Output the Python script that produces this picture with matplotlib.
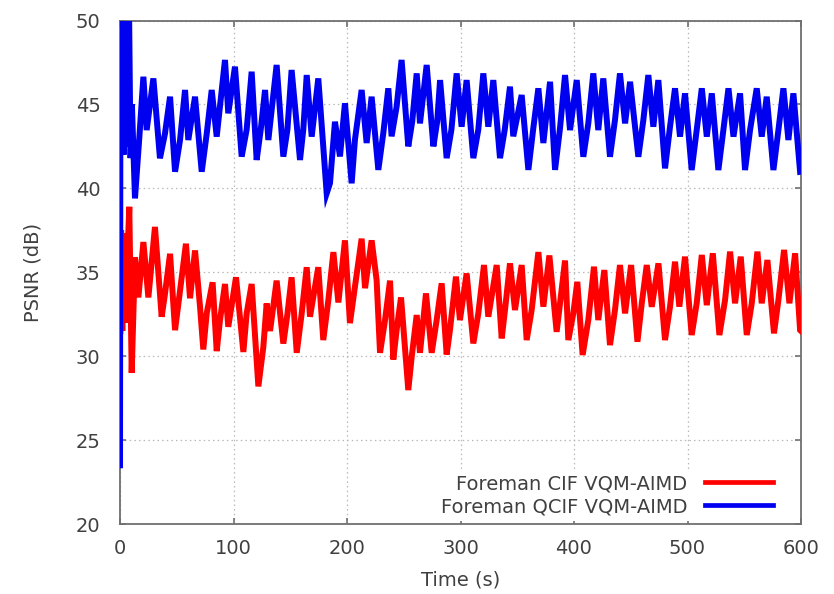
import matplotlib
matplotlib.use("Agg")
import matplotlib.pyplot as plt
from matplotlib.lines import Line2D

# ---- data ----
cif_time = [0.3, 1.0, 2.0, 3.0, 4.2, 6.0, 8.2, 10.3, 13.2, 16.2, 20.6, 25.0, 30.8, 36.7, 39.6,
            44.1, 48.5, 52.9, 58.1, 61.7, 66.1, 70.5, 73.4, 76.4, 81.6, 85.2, 88.1, 92.5, 95.4,
            102.2, 108.7, 111.6, 116.0, 121.9, 126.3, 129.2, 132.2, 138.0, 143.9, 147.5, 151.2,
            155.7, 160.0, 164.5, 167.4, 174.7, 179.1, 183.5, 188.0, 192.4, 198.2, 202.6, 207.0,
            212.9, 215.9, 221.7, 226.1, 229.1, 233.5, 237.9, 240.8, 243.7, 247.6, 254.0, 257.0,
            261.4, 264.3, 269.6, 274.6, 279.0, 283.4, 287.8, 290.7, 296.0, 299.5, 305.4, 311.3,
            315.7, 320.7, 324.5, 331.9, 336.3, 339.2, 343.6, 348.0, 353.9, 358.3, 362.7, 368.6,
            373.0, 378.3, 384.7, 387.7, 392.1, 395.0, 399.4, 402.9, 407.6, 412.6, 417.6, 421.4,
            426.7, 431.7, 436.1, 440.5, 445.0, 450.3, 455.9, 459.7, 464.1, 468.5, 474.4, 480.2,
            484.6, 489.0, 492.8, 497.8, 503.7, 508.1, 512.6, 517.0, 522.3, 528.1, 533.1, 537.5,
            541.9, 546.9, 552.2, 556.6, 561.6, 565.4, 570.4, 576.2, 580.1, 585.1, 589.8, 594.8,
            599.2, 600.0]
cif_psnr = [31.5, 37.5, 31.5, 37.3, 32.0, 35.0, 38.9, 29.0, 35.9, 33.5, 36.8, 33.5, 37.7, 32.35, 33.7,
            36.1, 31.55, 33.9, 36.7, 33.45, 36.3, 32.95, 30.4, 32.55, 34.4, 30.3, 32.15, 34.3, 31.75,
            34.7, 30.25, 32.55, 34.3, 28.2, 30.56, 33.14, 31.5, 34.5, 30.75, 32.5, 34.7,
            30.2, 32.5, 35.3, 32.35, 35.3, 30.96, 33.3, 36.2, 33.2, 36.9, 31.97, 34.14,
            37.0, 34.05, 36.9, 34.53, 30.2, 32.15, 34.5, 29.8, 31.55, 33.5, 27.98, 29.96,
            32.45, 30.2, 33.74, 30.2, 32.15, 34.34, 30.1, 31.55, 34.74, 32.15, 34.93, 30.76,
            32.55, 35.43, 32.35, 35.43, 31.06, 32.75, 35.53, 32.75, 35.43, 30.96, 32.75, 36.2,
            32.95, 36.0, 31.45, 33.15, 35.7, 30.96, 32.55, 34.43, 30.07, 32.15, 35.33, 32.15,
            35.13, 30.66, 32.75, 35.43, 32.55, 35.43, 30.86, 33.15, 35.43, 32.94, 35.53, 30.96,
            32.95, 35.63, 32.95, 35.93, 31.26, 33.15, 36.03, 33.04, 36.13, 31.26, 33.35, 36.23,
            33.15, 35.93, 31.26, 33.15, 36.23, 33.15, 35.73, 31.36, 33.35, 36.33, 33.15, 36.13,
            31.55, 31.5]

qcif_time = [0.0, 0.4, 1.3, 2.2, 3.1, 4.0, 5.0, 6.0, 7.0, 8.0, 9.3, 10.5, 13.2, 17.0, 20.6, 23.5,
             29.4, 35.2, 39.6, 44.1, 48.5, 52.9, 57.3, 60.2, 66.1, 72.0, 76.4, 80.8, 85.2, 92.5,
             95.4, 101.3, 107.2, 111.6, 116.0, 120.4, 124.0, 127.8, 130.7, 138.0, 143.9, 147.5,
             151.2, 158.6, 161.5, 164.5, 168.9, 174.7, 182.1, 185.0, 189.4, 193.8, 198.2, 204.1,
             207.0, 212.9, 217.3, 221.7, 227.6, 232.0, 236.4, 239.3, 243.7, 248.1, 254.0, 257.5,
             261.4, 264.3, 270.2, 276.1, 279.5, 282.0, 287.8, 292.0, 296.6, 301.0, 305.4, 311.3,
             315.7, 320.1, 324.5, 328.9, 334.8, 339.0, 343.6, 346.5, 353.9, 359.8, 364.0, 368.6,
             373.0, 378.9, 383.3, 387.7, 392.1, 396.5, 402.4, 408.2, 412.6, 417.0, 421.4, 425.8,
             431.7, 436.1, 440.5, 445.0, 449.4, 456.7, 461.1, 465.5, 469.9, 474.3, 480.2, 484.6,
             489.0, 493.4, 497.8, 503.7, 508.1, 512.6, 517.0, 521.4, 527.2, 531.6, 536.1, 540.5,
             546.3, 550.7, 555.1, 561.0, 565.4, 569.8, 575.7, 580.1, 584.5, 588.9, 593.3, 599.2,
             600.0]
qcif_psnr = [23.5, 50.5, 42.5, 50.5, 42.0, 50.5, 42.5, 50.5, 43.0, 50.5, 41.8, 45.0, 39.4, 43.0, 46.65, 43.47,
             46.55, 41.79, 43.25, 45.46, 40.99, 42.88, 45.86, 42.88, 45.46, 40.99, 43.25, 45.86, 43.08, 47.65,
             44.47, 47.25, 41.89, 43.5, 46.95, 41.69, 43.5, 45.86, 42.88, 47.35, 41.89, 43.5,
             47.05, 41.69, 43.5, 46.75, 43.08, 46.55, 39.7, 40.3, 43.97, 41.9, 45.07, 40.3,
             42.9, 45.86, 42.7, 45.46, 41.1, 43.3, 45.96, 43.1, 44.86, 47.65, 42.5, 44.0,
             46.85, 43.87, 47.35, 42.5, 44.0, 46.45, 41.8, 43.5, 46.85, 43.67, 46.45, 41.8,
             43.5, 46.85, 43.67, 46.45, 41.8, 43.5, 46.06, 43.1, 45.56, 41.1, 43.5, 45.96,
             42.7, 46.35, 41.1, 43.6, 46.75, 43.47, 46.45, 41.88, 43.87, 46.85, 43.47, 46.55,
             41.88, 44.07, 46.85, 43.87, 46.35, 41.88, 44.07, 46.75, 43.67, 46.45, 41.19, 43.67,
             45.96, 43.08, 45.66, 41.09, 43.47, 45.96, 43.08, 45.66, 41.09, 43.47, 45.96, 43.08,
             45.66, 41.09, 43.47, 45.96, 43.08, 45.46, 41.09, 43.47, 45.96, 42.88, 45.66, 40.99,
             41.0]

series_labels = ["Foreman CIF VQM-AIMD", "Foreman QCIF VQM-AIMD"]
series_colors = ["#ff0000", "#0000f0"]
x_ticks = [0, 100, 200, 300, 400, 500, 600]
y_ticks = [20, 25, 30, 35, 40, 45, 50]

# ---- style ----
TXT = "#404040"
AX = "#707070"
FS = 14
plt.rcParams["font.family"] = ["DejaVu Sans"]

fig = plt.figure(figsize=(8.34, 5.94), dpi=100)
ax = fig.add_axes([120 / 834, 1 - 524 / 594, 681 / 834, 503.5 / 594])

ax.plot(cif_time, cif_psnr, color=series_colors[0], lw=4.3,
        solid_joinstyle="miter", zorder=3)
ax.plot(qcif_time, qcif_psnr, color=series_colors[1], lw=4.3,
        solid_joinstyle="miter", zorder=3.1)

ax.set_xlim(0, 600)
ax.set_ylim(20, 50)
ax.set_xticks(x_ticks)
ax.set_yticks(y_ticks)
ax.grid(True, color="#b8b8b8", linestyle=(0, (1.2, 2.5)), linewidth=0.9)
ax.set_axisbelow(True)

for s in ax.spines.values():
    s.set_color(AX)
    s.set_linewidth(1.3)

ax.tick_params(axis="both", direction="in", length=4, width=1.2, color=AX,
               top=True, right=True, labelsize=FS, labelcolor=TXT)
ax.tick_params(axis="x", pad=11)
ax.tick_params(axis="y", pad=14)

ax.set_xlabel("Time (s)", fontsize=FS, color=TXT, labelpad=9)
ax.set_ylabel("PSNR (dB)", fontsize=FS, color=TXT, labelpad=24)

handles = [Line2D([], [], color=c, lw=3.4) for c in series_colors]
leg = ax.legend(handles, series_labels, loc="lower right", bbox_to_anchor=(0.966, 0.006),
                bbox_transform=ax.transAxes,
                markerfirst=False, frameon=True, fancybox=False, framealpha=1,
                facecolor="white", edgecolor="none", fontsize=FS,
                handlelength=3.5, handletextpad=0.9, labelspacing=0.2,
                borderpad=0.25, borderaxespad=0)
for t in leg.get_texts():
    t.set_color(TXT)
leg.set_zorder(5)

fig.savefig("out.png", dpi=100, facecolor="white")
